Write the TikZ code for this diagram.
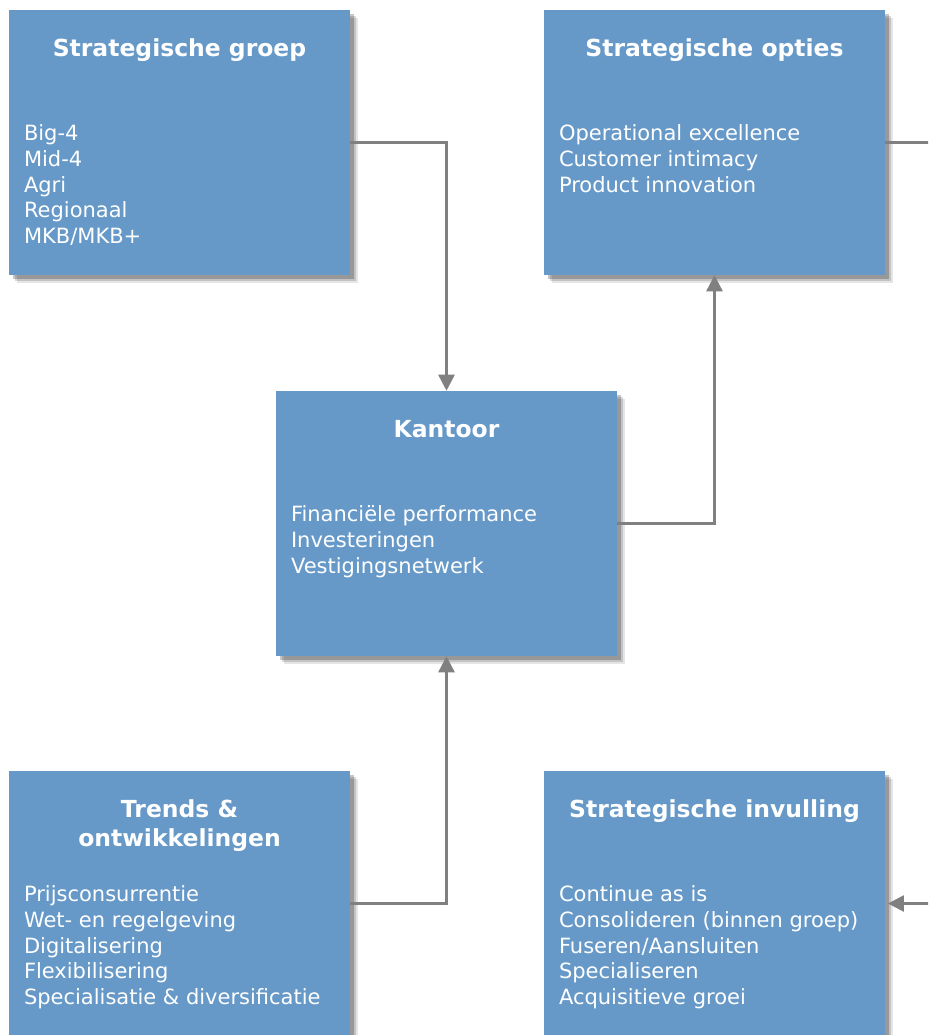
\documentclass[tikz,border=0pt]{standalone}
\usepackage{fontspec}
\setmainfont{DejaVu Sans}
\usepackage{xcolor}
\definecolor{kaderblauw}{RGB}{102,153,200}
\definecolor{lijngrijs}{RGB}{128,128,128}
\usepackage{tikz}
\usetikzlibrary{shadows}
\usetikzlibrary{positioning}
\usetikzlibrary{arrows.meta}
\tikzset{
  kader/.style={minimum width=255.75pt,minimum height=198.75pt,inner sep=0pt,fill=kaderblauw,
    drop shadow={shadow xshift=6pt,shadow yshift=-6pt,fill=black,opacity=0.1},
    drop shadow={shadow xshift=4.5pt,shadow yshift=-4.5pt,fill=black,opacity=0.15},
    drop shadow={shadow xshift=3pt,shadow yshift=-3pt,fill=black,opacity=0.22}},
  kadertitel/.style={inner sep=0pt,align=center,text=white,font=\fontsize{17.6}{21.75}\selectfont\bfseries},
  kadertekst/.style={inner sep=0pt,align=left,text=white,font=\fontsize{15.75}{19.2}\selectfont},
  pijl/.style={draw=lijngrijs,line width=1.9pt,-{Triangle[length=12pt,width=12pt]}}
}
\begin{document}
\begin{tikzpicture}[x=0.75pt,y=-0.75pt]
\useasboundingbox (0,0) rectangle (928,1035);
\clip (0,0) rectangle (928,1035);
\node (groep) at (179.5,142.5) [kader] {};
\node (opties) at (714.5,142.5) [kader] {};
\node (kantoor) at (446.5,523.5) [kader] {};
\node (trends) at (179.5,903.5) [kader] {};
\node (invulling) at (714.5,903.5) [kader] {};
\node (groeptitel) [kadertitel,below=21.75pt of groep.north] {Strategische groep};
\node (optiestitel) [kadertitel,below=21.75pt of opties.north] {Strategische opties};
\node (kantoortitel) [kadertitel,below=21.75pt of kantoor.north] {Kantoor};
\node (trendstitel) [kadertitel,below=21.75pt of trends.north] {Trends \&\\ontwikkelingen};
\node (invullingtitel) [kadertitel,below=21.75pt of invulling.north] {Strategische invulling};
\node (groeptekst) [kadertekst,below right=86.25pt and 11.25pt of groep.north west]
  {Big-4\\Mid-4\\Agri\\Regionaal\\MKB/MKB+};
\node (optiestekst) [kadertekst,below right=86.25pt and 11.25pt of opties.north west]
  {Operational excellence\\Customer intimacy\\Product innovation};
\node (kantoortekst) [kadertekst,below right=86.25pt and 11.25pt of kantoor.north west]
  {Financiële performance\\Investeringen\\Vestigingsnetwerk};
\node (trendstekst) [kadertekst,below right=86.25pt and 11.25pt of trends.north west]
  {Prijsconsurrentie\\Wet- en regelgeving\\Digitalisering\\Flexibilisering\\Specialisatie \& diversificatie};
\node (invullingtekst) [kadertekst,below right=86.25pt and 11.25pt of invulling.north west]
  {Continue as is\\Consolideren (binnen groep)\\Fuseren/Aansluiten\\Specialiseren\\Acquisitieve groei};
\coordinate (rechts) at (960,523.5);
\draw[pijl] (groep.east) -| (kantoor.north);
\draw[pijl] (kantoor.east) -| (opties.south);
\draw[pijl] (trends.east) -| (kantoor.south);
\draw[pijl,shorten >=2pt] (opties.east) -| (rechts) |- (invulling.east);
\end{tikzpicture}
\end{document}
